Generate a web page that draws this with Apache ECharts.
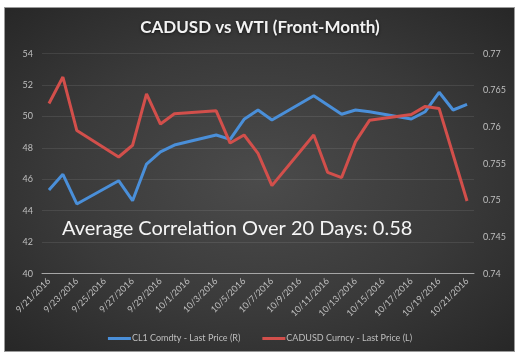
<!DOCTYPE html>
<html><head><meta charset="utf-8">
<script src="https://cdn.jsdelivr.net/npm/echarts@6/dist/echarts.min.js"></script>
<style>
html,body{margin:0;padding:0;background:#fff;width:520px;height:361px;overflow:hidden;}
#box{position:absolute;left:4px;top:7px;width:509px;height:343px;border:1px solid #9a9a9a;
background:radial-gradient(ellipse at 50% 50%, #4b4b4b 0%, #3a3a3a 55%, #272727 100%);}
#c{position:absolute;left:0;top:0;width:520px;height:361px;}
</style></head>
<body><div id="box"></div><div id="c"></div>
<script>
var allDays = ['9/21/2016','9/22/2016','9/23/2016','9/24/2016','9/25/2016','9/26/2016','9/27/2016','9/28/2016','9/29/2016','9/30/2016',
  '10/1/2016','10/2/2016','10/3/2016','10/4/2016','10/5/2016','10/6/2016','10/7/2016','10/8/2016','10/9/2016','10/10/2016',
  '10/11/2016','10/12/2016','10/13/2016','10/14/2016','10/15/2016','10/16/2016','10/17/2016','10/18/2016','10/19/2016','10/20/2016','10/21/2016'];
var tradingDates = ['9/21/2016','9/22/2016','9/23/2016','9/26/2016','9/27/2016','9/28/2016','9/29/2016','9/30/2016',
  '10/3/2016','10/4/2016','10/5/2016','10/6/2016','10/7/2016','10/10/2016','10/11/2016','10/12/2016','10/13/2016','10/14/2016',
  '10/17/2016','10/18/2016','10/19/2016','10/20/2016','10/21/2016'];
var cl1 = [45.32,46.32,44.43,45.91,44.64,46.97,47.75,48.18,48.82,48.54,49.82,50.41,49.77,51.32,50.73,50.14,50.41,50.30,49.84,50.30,51.54,50.41,50.77];
var cadusd = [0.7632,0.7668,0.7595,0.7559,0.7575,0.7645,0.7604,0.7618,0.7622,0.7578,0.7589,0.7564,0.7520,0.7589,0.7538,0.7531,0.7580,0.7609,0.7617,0.7628,0.7625,0.7562,0.7499];
var seriesNames = ['CL1 Comdty - Last Price (R)','CADUSD Curncy - Last Price (L)'];
var titleText = 'CADUSD vs WTI (Front-Month)';
var noteText = 'Average Correlation Over 20 Days: 0.58';

function toDaily(vals){
  return allDays.map(function(d){ var i = tradingDates.indexOf(d); return i >= 0 ? vals[i] : null; });
}
var FONT = 'Lato, "Open Sans", sans-serif';
var chart = echarts.init(document.getElementById('c'), null, {renderer:'canvas'});
chart.setOption({
  backgroundColor: 'transparent',
  animation: false,
  textStyle: {fontFamily: FONT},
  title: {text: titleText, left: 'center', top: 14,
    textStyle: {color:'#f2f2f2', fontSize:17, fontWeight:'bold', fontFamily: FONT,
      textShadowColor:'rgba(0,0,0,0.6)', textShadowBlur:3, textShadowOffsetY:1}},
  grid: {left:42, right:46, top:53.6, bottom:87.4, containLabel:false},
  legend: {bottom: 13, left:'center', itemWidth:23, itemHeight:3, itemGap:22,
    icon: 'rect',
    textStyle: {color:'#bfbfbf', fontSize:9, fontFamily: FONT, padding:[0,0,0,-4]},
    data: seriesNames},
  xAxis: {type:'category', data: allDays, boundaryGap:true,
    axisLine:{lineStyle:{color:'#a6a6a6', width:1}},
    axisTick:{show:false},
    axisLabel:{interval:1, rotate:45, color:'#bfbfbf', fontSize:9, fontFamily: FONT, margin:6}},
  yAxis: [
    {type:'value', min:40, max:54, interval:2, position:'left',
      axisLine:{show:false}, axisTick:{show:false},
      axisLabel:{color:'#bfbfbf', fontSize:9, fontFamily: FONT, margin:9},
      splitLine:{lineStyle:{color:'rgba(255,255,255,0.09)', width:1}}},
    {type:'value', min:0.74, max:0.77, interval:0.005, position:'right',
      axisLine:{show:false}, axisTick:{show:false},
      axisLabel:{color:'#bfbfbf', fontSize:9, fontFamily: FONT, margin:9,
        formatter:function(v){ return String(+v.toFixed(3)); }},
      splitLine:{show:false}}
  ],
  series: [
    {name: seriesNames[0], type:'line', yAxisIndex:0, data: toDaily(cl1), connectNulls:true,
      symbol:'none', lineStyle:{color:'#4a8fd9', width:3}, itemStyle:{color:'#4a8fd9'}},
    {name: seriesNames[1], type:'line', yAxisIndex:1, data: toDaily(cadusd), connectNulls:true,
      symbol:'none', lineStyle:{color:'#d24f4b', width:3}, itemStyle:{color:'#d24f4b'}}
  ],
  graphic: [{type:'text', left:62, top:219,
    style:{text: noteText, fill:'#f5f5f5', fontSize:20, fontFamily: FONT}}]
});
</script></body></html>
